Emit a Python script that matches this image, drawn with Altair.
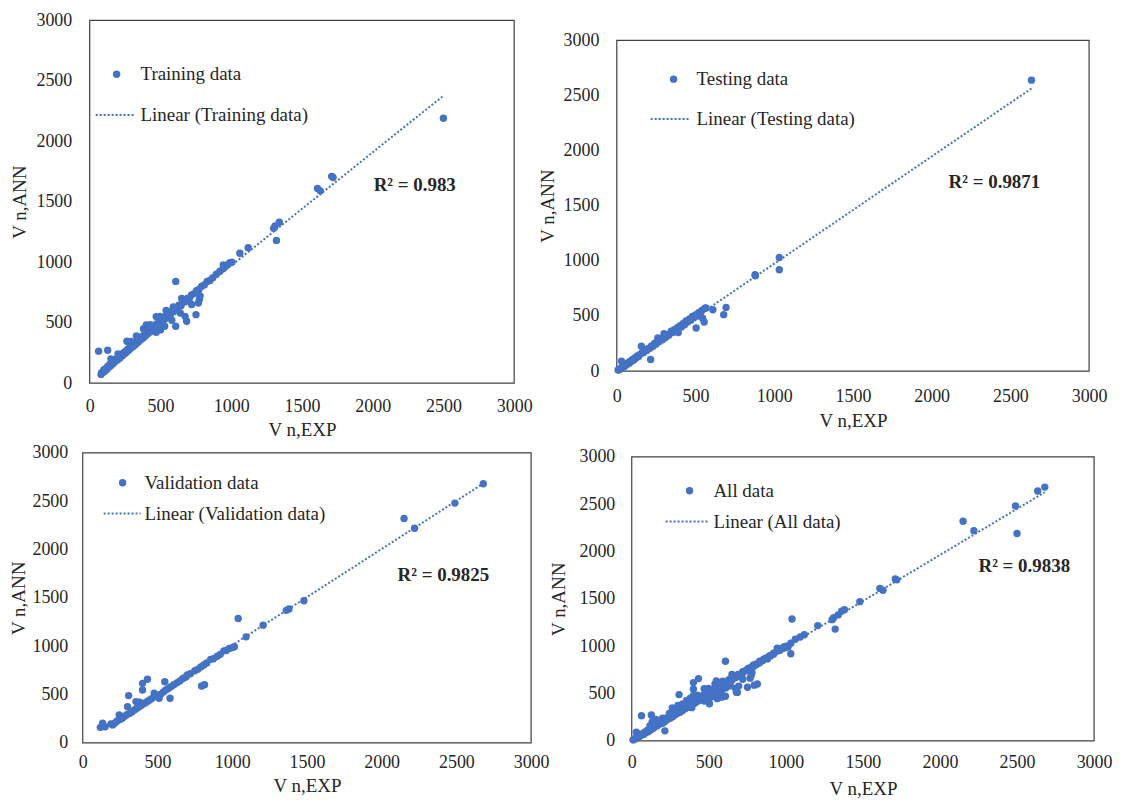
import altair as alt
import pandas as pd

BLUE = "#4472C4"
FONT = "Liberation Serif, Times New Roman, serif"
TXT = "#262626"
BOX = "#404040"
TICKS = [0, 500, 1000, 1500, 2000, 2500, 3000]

# ---------------- data ----------------
train_x = [80, 85, 92, 100, 105, 112, 120, 128, 135, 142, 150, 158, 165, 172, 180, 188, 195, 205, 212, 220,
           228, 236, 245, 252, 260, 268, 276, 285, 292, 300, 310, 318, 326, 335, 344, 352, 360, 370, 378, 386,
           395, 404, 412, 420, 430, 438, 446, 455, 463, 472, 480, 490, 498, 506, 515, 524, 532, 540, 550, 560,
           570, 580, 592, 604, 616, 630, 645, 660, 675, 690, 705, 720, 738, 755, 772, 790, 810, 830, 850, 870,
           895, 920, 945, 970, 990, 1005,
           63, 127, 150, 200, 263, 290, 330, 380, 400, 427, 470, 498, 540, 590, 608, 650,
           470, 500, 530, 580, 608, 640, 685, 674, 720, 751, 768, 775, 780,
           944, 1061, 1120, 1300, 1310, 1340, 1320, 1610, 1630, 1710, 1720, 2500]
train_y = [72, 85, 90, 110, 95, 118, 112, 140, 130, 155, 145, 170, 160, 185, 178, 200, 190, 215, 205, 232,
           225, 248, 240, 262, 255, 280, 272, 300, 290, 315, 305, 330, 322, 348, 340, 365, 358, 385, 372, 400,
           392, 420, 410, 440, 425, 455, 448, 470, 462, 490, 478, 505, 495, 520, 512, 540, 530, 555, 548, 575,
           568, 595, 590, 618, 612, 645, 640, 670, 672, 700, 702, 730, 740, 765, 775, 800, 812, 840, 848, 872,
           900, 925, 948, 975, 995, 1000,
           264, 272, 200, 240, 346, 345, 390, 450, 480, 483, 550, 552, 600, 630, 841, 700,
           420, 440, 470, 520, 470, 580, 511, 552, 650, 566, 662, 692, 720,
           978, 1074, 1120, 1280, 1300, 1330, 1180, 1610, 1590, 1710, 1700, 2190]

test_x = [8, 15, 22, 30, 30, 40, 48, 55, 62, 70, 78, 85, 92, 100, 108, 115, 122, 130, 138, 145,
          156, 160, 170, 180, 190, 200, 210, 215, 220, 230, 240, 250, 258, 261, 270, 280, 290, 300, 300, 310,
          320, 330, 346, 355, 365, 375, 385, 390, 400, 410, 420, 430, 440, 450, 460, 470, 480, 490, 500, 504,
          510, 520, 530, 540, 545, 555, 560, 567, 610, 679, 694, 878, 880, 1032, 1032, 2634]
test_y = [10, 12, 25, 28, 90, 45, 42, 60, 58, 75, 72, 90, 88, 105, 102, 120, 118, 138, 132, 150,
          226, 165, 168, 185, 188, 205, 208, 105, 228, 225, 250, 245, 275, 301, 268, 290, 285, 310, 340, 305,
          330, 325, 361, 350, 375, 368, 395, 350, 410, 400, 430, 420, 455, 445, 470, 462, 495, 485, 510, 391,
          500, 530, 515, 550, 480, 445, 570, 572, 557, 512, 578, 874, 865, 1030, 919, 2639]

val_x = [118, 133, 150, 189, 200, 215, 230, 244, 250, 265, 280, 295, 300, 307, 315, 330, 345, 356, 360, 375,
         380, 390, 400, 400, 405, 420, 433, 435, 450, 465, 478, 490, 511, 520, 540, 549, 555, 570, 584, 590,
         610, 630, 650, 670, 690, 700, 720, 750, 770, 790, 795, 815, 810, 830, 856, 875, 900, 920, 944, 960,
         980, 1000, 1015, 1040, 1093, 1207, 1362, 1380, 1480, 2150, 2220, 2490, 2680]
val_y = [160, 203, 165, 196, 185, 205, 225, 289, 240, 255, 275, 290, 374, 488, 305, 320, 340, 426, 355, 370,
         420, 385, 546, 615, 400, 415, 657, 430, 445, 460, 512, 480, 461, 500, 525, 632, 545, 560, 461, 580,
         600, 620, 640, 665, 680, 701, 715, 745, 760, 785, 588, 600, 805, 825, 863, 870, 895, 915, 951, 955,
         975, 985, 993, 1286, 1096, 1217, 1370, 1385, 1470, 2320, 2220, 2480, 2680]

all_x = train_x + test_x + val_x
all_y = train_y + test_y + val_y

names = ["Training data", "Testing data", "Validation data", "All data"]
r2_labels = ["R² = 0.983", "R² = 0.9871", "R² = 0.9825", "R² = 0.9838"]


def panel(xs, ys, name, r2, lay):
    w, h = lay["cell"]
    bx0, bx1, by0, by1 = lay["box"]
    df = pd.DataFrame({"x": xs, "y": ys})
    xs_ = alt.Scale(domain=[0, 3000], range=[bx0, bx1], nice=False, zero=True)
    ys_ = alt.Scale(domain=[0, 3000], range=[by1, by0], nice=False, zero=True)
    common = dict(values=TICKS, format="d", ticks=False, domain=False, grid=False,
                  labelFont=FONT, labelFontSize=18, labelColor=TXT, labelOverlap=False,
                  labelFlush=False, titleFont=FONT, titleFontSize=19, titleFontWeight="normal",
                  titleColor=TXT)
    xenc = alt.X("x:Q", scale=xs_, axis=alt.Axis(title="V n,EXP", labelPadding=lay["xlp"],
                                                  titlePadding=lay["xtp"], **common))
    yenc = alt.Y("y:Q", scale=ys_, axis=alt.Axis(title="V n,ANN", labelPadding=lay["ylp"],
                                                  titlePadding=lay["ytp"], **common))
    base = alt.Chart(df)
    pts = base.mark_circle(size=55, color=BLUE, opacity=1).encode(x=xenc, y=yenc)
    trend = base.transform_regression("x", "y").mark_line(
        color=BLUE, strokeDash=[2, 2], strokeWidth=2).encode(x=xenc, y=yenc)

    one = pd.DataFrame({"k": [0]})
    frame = alt.Chart(one).mark_rect(fillOpacity=0, stroke=BOX, strokeWidth=1.2).encode(
        x=alt.value(bx0), x2=alt.value(bx1), y=alt.value(by0), y2=alt.value(by1))
    ldot = alt.Chart(one).mark_circle(size=55, color=BLUE, opacity=1).encode(
        x=alt.value(lay["dot"][0]), y=alt.value(lay["dot"][1]))
    ltxt = alt.Chart(one).mark_text(font=FONT, fontSize=19, color=TXT, align="left",
                                    baseline="middle", text=name).encode(
        x=alt.value(lay["t1"][0]), y=alt.value(lay["t1"][1]))
    lline = alt.Chart(one).mark_rule(color=BLUE, strokeDash=[2, 2], strokeWidth=2).encode(
        x=alt.value(lay["ln"][0]), x2=alt.value(lay["ln"][1]), y=alt.value(lay["ln"][2]))
    ltxt2 = alt.Chart(one).mark_text(font=FONT, fontSize=19, color=TXT, align="left",
                                     baseline="middle", text="Linear (" + name + ")").encode(
        x=alt.value(lay["t2"][0]), y=alt.value(lay["t2"][1]))
    rtxt = alt.Chart(one).mark_text(font=FONT, fontSize=19, fontWeight="bold", color=TXT,
                                    align="left", baseline="middle", text=r2).encode(
        x=alt.value(lay["r2"][0]), y=alt.value(lay["r2"][1]))
    return alt.layer(frame, trend, pts, ldot, ltxt, lline, ltxt2, rtxt).properties(width=w, height=h)


p1 = panel(train_x, train_y, names[0], r2_labels[0],
           dict(cell=(450, 364), box=(7, 433, 0, 364),
                xlp=15, xtp=5, ylp=11, ytp=6, dot=(34, 54), t1=(58, 54), ln=(13, 53, 95),
                t2=(58, 95), r2=(292, 165)))
p2 = panel(test_x, test_y, names[1], r2_labels[1],
           dict(cell=(479, 364), box=(0, 474, 20, 352),
                xlp=4, xtp=7, ylp=18, ytp=6, dot=(57, 59), t1=(80, 59), ln=(34, 74, 99),
                t2=(80, 99), r2=(333, 162)))
p3 = panel(val_x, val_y, names[2], r2_labels[2],
           dict(cell=(450, 291), box=(0, 450, 0, 291),
                xlp=11, xtp=5, ylp=15, ytp=3, dot=(40, 30), t1=(62, 30), ln=(21, 58, 61),
                t2=(62, 61), r2=(316, 123)))
p4 = panel(all_x, all_y, names[3], r2_labels[3],
           dict(cell=(479, 291), box=(15, 479, 4, 289),
                xlp=11, xtp=8, ylp=2, ytp=10, dot=(73, 38), t1=(97, 38), ln=(49, 91, 69),
                t2=(97, 69), r2=(363, 114)))

chart = alt.concat(p1, p2, p3, p4, columns=2, spacing={"column": 86, "row": 70},
                   bounds="flush").properties(
    padding={"left": 2, "top": 2, "right": 4, "bottom": 4}
).configure_view(strokeOpacity=0)

chart.save("out.html", embed_options={"renderer": "svg", "actions": False})
